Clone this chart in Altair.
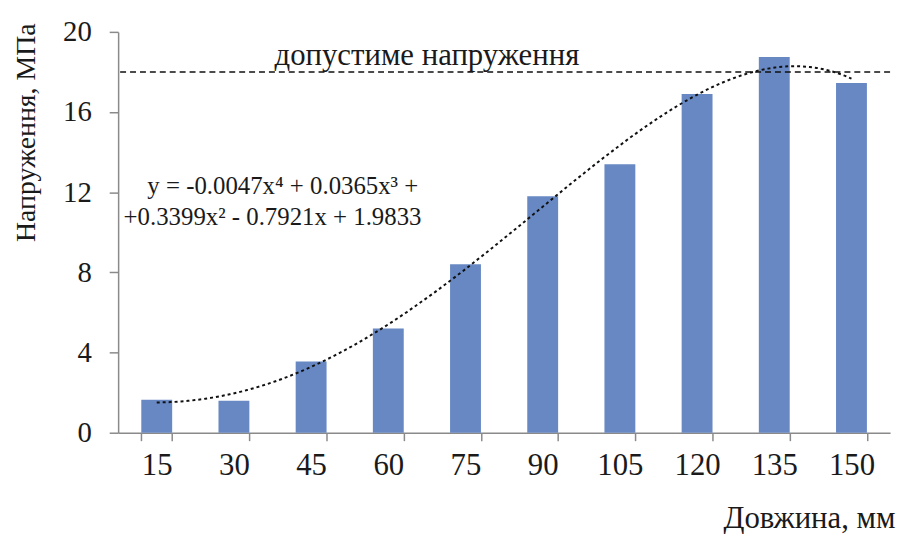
import altair as alt
import pandas as pd

# ---- data ----
lengths = [15, 30, 45, 60, 75, 90, 105, 120, 135, 150]
stress = [1.65, 1.6, 3.55, 5.2, 8.4, 11.8, 13.4, 16.9, 18.75, 17.45]
limit_value = [18.0]
limit_label = ["допустиме напруження"]
limit_label_x = [67.5]
eq_lines = ["y = -0.0047x⁴ + 0.0365x³ +", "+0.3399x² - 0.7921x + 1.9833"]
eq_x = [39.5, 37.5]
eq_y = [12.3, 10.75]
y_ticks = [0, 4, 8, 12, 16, 20]

FONT = "'Times New Roman', 'Liberation Serif', 'DejaVu Serif', serif"
GREY = "#8a8a8a"
BAR = "#6788c3"
INK = "#1a1a1a"

df = pd.DataFrame({"len": lengths, "stress": stress})
xq = alt.Scale(domain=[7.5, 157.5], nice=False, zero=False)
ys = alt.Scale(domain=[0, 20], nice=False)
ytitle = "Напруження, МПа"

bars = alt.Chart(df).mark_bar(color=BAR).encode(
    x=alt.X("len:O", scale=alt.Scale(paddingInner=0.6, paddingOuter=0.3),
            axis=alt.Axis(title="Довжина, мм", labelAngle=0, tickBand="extent",
                          tickSize=8, labelPadding=10, labelFontSize=31,
                          titleFontSize=31, titleAnchor="end", titleX=783,
                          titlePadding=24)),
    y=alt.Y("stress:Q", scale=ys, title=ytitle,
            axis=alt.Axis(values=y_ticks, tickSize=9, labelPadding=18,
                          labelFontSize=29, titleFontSize=28,
                          titleAnchor="end", titleY=-9,
                          titlePadding=22, grid=False)),
)

trend = alt.Chart(df).transform_regression(
    "len", "stress", method="poly", order=4
).mark_line(color="#111111", strokeWidth=2, strokeDash=[3, 3]).encode(
    x=alt.X("len:Q", scale=xq, axis=None),
    y=alt.Y("stress:Q", scale=ys, title=ytitle),
)

rule = alt.Chart(pd.DataFrame({"stress": limit_value})).mark_rule(
    color="#111111", strokeWidth=1.5, strokeDash=[6, 4]
).encode(y=alt.Y("stress:Q", scale=ys, title=ytitle))

lim_text = alt.Chart(pd.DataFrame({"x": limit_label_x, "stress": limit_value, "t": limit_label})).mark_text(
    font=FONT, fontSize=31, color=INK, baseline="alphabetic", dy=-7
).encode(
    x=alt.X("x:Q", scale=xq, axis=None),
    y=alt.Y("stress:Q", scale=ys, title=ytitle),
    text="t:N",
)

eq_text = alt.Chart(pd.DataFrame({"x": eq_x, "stress": eq_y, "t": eq_lines})).mark_text(
    font=FONT, fontSize=25, color=INK, baseline="middle"
).encode(
    x=alt.X("x:Q", scale=xq, axis=None),
    y=alt.Y("stress:Q", scale=ys, title=ytitle),
    text="t:N",
)

chart = alt.layer(bars, trend, rule, lim_text, eq_text).resolve_scale(
    x="independent"
).properties(
    width=778, height=404,
    autosize=alt.AutoSizeParams(type="none"),
    padding={"left": 111, "top": 22, "right": 8, "bottom": 100},
).configure_view(strokeWidth=0).configure_axis(
    labelFont=FONT, titleFont=FONT,
    labelColor=INK, titleColor=INK, titleFontWeight="normal",
    domainColor=GREY, tickColor=GREY, domainWidth=1.5, tickWidth=1.5,
)

chart.save("out.html", embed_options={"renderer": "svg", "actions": False})
